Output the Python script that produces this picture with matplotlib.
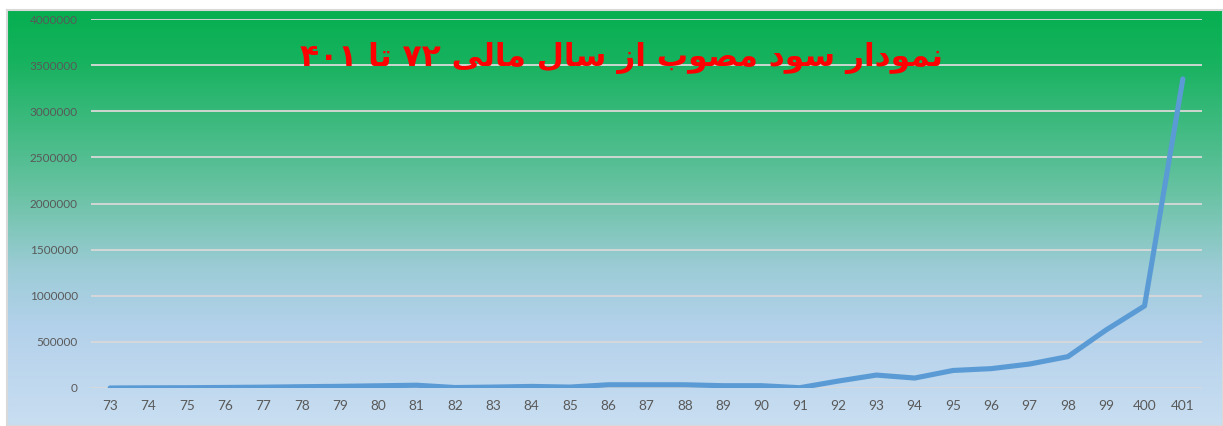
import numpy as np
import matplotlib
matplotlib.use("Agg")
import matplotlib.pyplot as plt
from matplotlib.colors import LinearSegmentedColormap

# ---- data ----
years = ["73", "74", "75", "76", "77", "78", "79", "80", "81", "82", "83", "84", "85",
         "86", "87", "88", "89", "90", "91", "92", "93", "94", "95", "96", "97", "98",
         "99", "400", "401"]
profit = [0, 2000, 3000, 6000, 9000, 14000, 18000, 24000, 30000, 5000, 10000, 17000,
          10000, 35000, 35000, 35000, 25000, 25000, 3000, 75000, 140000, 108000, 190000,
          210000, 260000, 340000, 630000, 890000, 3350000]
yticks = [0, 500000, 1000000, 1500000, 2000000, 2500000, 3000000, 3500000, 4000000]

# Title (logical): "نمودار سود مصوب از سال مالی ۷۲ تا ۴۰۱"
# written with Arabic presentation forms in visual (left-to-right) order
title_visual = (
    "\u06F4\u06F0\u06F1"               # ۴۰۱
    " \uFE8E\uFE97"                    # تا
    " \u06F7\u06F2"                    # ۷۲
    " \uFEF0\uFEDF\uFE8E\uFEE3"        # مالی
    " \uFEDD\uFE8E\uFEB3"              # سال
    " \uFEAF\uFE8D"                    # از
    " \uFE8F\uFEEE\uFEBC\uFEE3"        # مصوب
    " \uFEA9\uFEEE\uFEB3"              # سود
    " \uFEAD\uFE8D\uFEA9\uFEEE\uFEE4\uFEE7"  # نمودار
)

W, H = 1223, 426
fig = plt.figure(figsize=(W / 100, H / 100), dpi=100)
fig.patch.set_facecolor("white")

# gradient background panel
bg = fig.add_axes([7 / W, 0, 1 - 7 / W, (H - 10) / H])
cmap = LinearSegmentedColormap.from_list(
    "bg", [(0.0, "#06AF50"), (0.12, "#16B25E"), (0.45, "#6CC3A6"),
           (0.62, "#9CCCD6"), (0.76, "#B3D1EB"), (1.0, "#C9DEF1")])
grad = np.linspace(0, 1, 256).reshape(-1, 1)
bg.imshow(grad, aspect="auto", cmap=cmap, extent=[0, 1, 0, 1], origin="upper")
bg.set_xlim(0, 1)
bg.set_ylim(0, 1)
bg.set_xticks([])
bg.set_yticks([])
for s in bg.spines.values():
    s.set_color("#D9D9D9")
    s.set_linewidth(1.5)

# main axes
ax = fig.add_axes([91 / W, (H - 388) / H, (1202 - 91) / W, (388 - 19) / H])
ax.set_facecolor("none")
x = np.arange(len(years))
ax.plot(x, profit, color="#5B9BD5", lw=3.7, solid_capstyle="round",
        solid_joinstyle="round", zorder=3)
ax.set_xlim(-0.5, len(years) - 0.5)
ax.set_ylim(0, 4000000)
ax.set_yticks(yticks)
ax.set_yticklabels([str(v) for v in yticks])
ax.set_xticks(x)
ax.set_xticklabels(years)
ax.grid(axis="y", color="#D9D9D9", lw=1.3, zorder=1)
ax.grid(axis="x", visible=False)
for s in ax.spines.values():
    s.set_visible(False)
ax.tick_params(axis="y", length=0, pad=9.5, labelsize=8.5, labelcolor="#595959")
ax.tick_params(axis="x", length=0, pad=9, labelsize=9.8, labelcolor="#595959")
for lab in ax.get_xticklabels() + ax.get_yticklabels():
    lab.set_fontfamily(["Lato", "DejaVu Sans"])

fig.text(621 / W, 1 - 58 / H, title_visual, ha="center", va="center",
         color="#FF0000", fontsize=22.5, fontweight="bold",
         family=["DejaVu Sans"])

fig.savefig("out.png", dpi=100)
